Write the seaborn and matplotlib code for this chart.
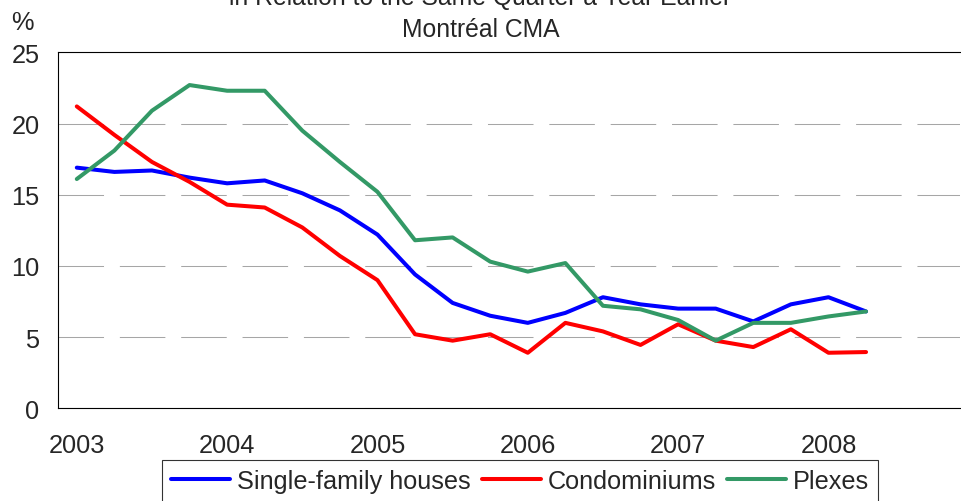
import matplotlib.pyplot as plt
import numpy as np
import pandas as pd
import seaborn as sns

# Quarterly values, 2003Q1 to 2008Q2
quarter_index = list(range(22))
year_labels = ['2003', '2004', '2005', '2006', '2007', '2008']
series_names = ['Single-family houses', 'Condominiums', 'Plexes']

single_family = [16.9, 16.6, 16.7, 16.2, 15.8, 16.0, 15.1, 13.9, 12.2, 9.4, 7.4,
                 6.5, 6.0, 6.7, 7.8, 7.3, 7.0, 7.0, 6.1, 7.3, 7.8, 6.8]
condominiums = [21.2, 19.2, 17.3, 15.9, 14.3, 14.1, 12.7, 10.7, 9.0, 5.2, 4.75,
                5.2, 3.9, 6.0, 5.4, 4.45, 5.9, 4.75, 4.3, 5.55, 3.9, 3.95]
plexes = [16.1, 18.1, 20.9, 22.7, 22.3, 22.3, 19.5, 17.3, 15.2, 11.8, 12.0,
          10.3, 9.6, 10.2, 7.2, 6.95, 6.2, 4.75, 6.0, 6.0, 6.45, 6.8]

colors = {'Single-family houses': '#0000FF', 'Condominiums': '#FF0000', 'Plexes': '#339966'}

df = pd.DataFrame({
    'quarter': quarter_index * 3,
    'value': single_family + condominiums + plexes,
    'type': [series_names[0]] * 22 + [series_names[1]] * 22 + [series_names[2]] * 22,
})

sns.set_style('white')
plt.rcParams['font.family'] = ['Liberation Sans', 'DejaVu Sans']

fig = plt.figure(figsize=(9.61, 5.02), dpi=100)
ax = fig.add_axes([58 / 961, 1 - 409.3 / 502, (960 - 58) / 961, (409.3 - 53.3) / 502])

sns.lineplot(data=df, x='quarter', y='value', hue='type', hue_order=series_names,
             palette=colors, linewidth=2.9, legend=False, ax=ax,
             solid_joinstyle='round', solid_capstyle='round')

# axes limits and ticks
ax.set_xlim(-0.5, -0.5 + (960 - 58) / 38.08)
ax.set_ylim(0, 25)
ax.set_xticks(range(0, 21, 4))
ax.set_xticklabels(year_labels)
ax.set_xticks(np.arange(-0.5, 23.6, 1), minor=True)
ax.set_yticks(range(0, 26, 5))
ax.tick_params(axis='x', which='major', length=0, pad=18, labelsize=18.3)
ax.tick_params(axis='x', which='minor', length=4.5, width=0.8, direction='out', color='black')
ax.tick_params(axis='y', which='major', length=4.3, width=0.8, direction='out',
               color='black', pad=9, labelsize=18.3)
ax.set_xlabel('')
ax.set_ylabel('')

ax.grid(axis='y', color='#A6A6A6', linewidth=0.75, linestyle=(0, (43.7, 15.2)))
ax.set_axisbelow(True)

for side in ['left', 'bottom', 'top']:
    ax.spines[side].set_visible(True)
    ax.spines[side].set_color('black')
    ax.spines[side].set_linewidth(0.8)
ax.spines['right'].set_visible(False)

# titles (first line is cut at the top edge, as in the source image)
fig.text(0.5, 1 - 5 / 502, 'in Relation to the Same Quarter a Year Earlier',
         ha='center', va='baseline', fontsize=17.8)
fig.text(0.5, 1 - 37.3 / 502, 'Montréal CMA', ha='center', va='baseline', fontsize=17.8)
fig.text(22 / 961, 1 - 30 / 502, '%', ha='center', va='baseline', fontsize=18.3)

# legend
leg = ax.legend(ax.lines[:3], series_names, loc='upper left',
                bbox_to_anchor=(162 / 961, 1 - 461 / 502), bbox_transform=fig.transFigure,
                ncol=3, frameon=True, fancybox=False, edgecolor='black', fontsize=18.2,
                handlelength=2.35, handletextpad=0.25, columnspacing=0.45,
                borderpad=0.35, borderaxespad=0)
leg.get_frame().set_linewidth(0.8)

fig.savefig('out.png', dpi=100)
